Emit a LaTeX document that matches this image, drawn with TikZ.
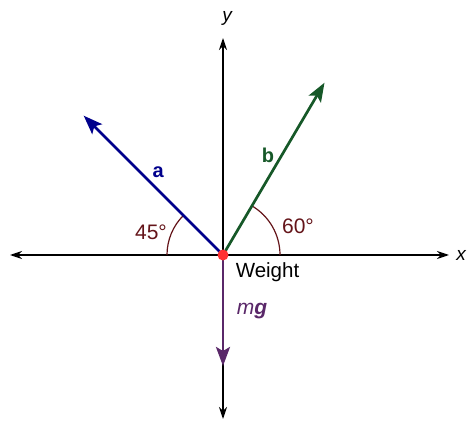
\documentclass[tikz,border=0pt]{standalone}
\usepackage{fontspec}
\setmainfont{Liberation Sans}
\usetikzlibrary{arrows.meta,calc}
\definecolor{avec}{RGB}{0,0,140}
\definecolor{bvec}{RGB}{22,88,40}
\definecolor{mgvec}{RGB}{90,40,105}
\definecolor{arccol}{RGB}{100,20,25}
\definecolor{dotcol}{RGB}{255,50,50}
\tikzset{
  axis/.style={line width=1.2pt,-{Stealth[length=12pt,width=8pt]}},
  vec/.style={line width=2.7pt,-{Stealth[length=19pt,width=14pt,inset=4pt]}},
  anglearc/.style={arccol,line width=1.2pt},
  lbl/.style={inner sep=0pt,font=\fontsize{19}{22}\selectfont},
}
\begin{document}
\begin{tikzpicture}[x=1pt,y=-1pt]
\useasboundingbox (0,0) rectangle (467,428);
\coordinate (O) at (223,255);
\coordinate (xl) at (10,255);
\coordinate (xr) at (449,255);
\coordinate (yt) at (223,38);
\coordinate (yb) at (223,419);
\coordinate (atip) at ($(O)+(-135:197)$);
\coordinate (btip) at ($(O)+(-59.5:200)$);
\coordinate (mgtip) at (223,366);
% axes
\draw[axis] (O) -- (xl);
\draw[axis] (O) -- (xr);
\draw[axis] (O) -- (yt);
\draw[axis] (O) -- (yb);
% angle arcs
\draw[anglearc] ($(O)+(180:56)$) arc[start angle=180,end angle=225,radius=56];
\draw[anglearc] ($(O)+(0:57)$) arc[start angle=0,end angle=-60,radius=57];
% vectors
\draw[vec,avec] (O) -- (atip);
\draw[vec,bvec] (O) -- (btip);
\draw[vec,mgvec] (O) -- (mgtip);
% origin dot
\fill[dotcol] (O) circle[radius=5.5];
% labels
\node[lbl,text=avec,font=\fontsize{20}{22}\selectfont\bfseries] (la) at (158.3,172.5) {a};
\node[lbl,text=bvec,font=\fontsize{20}{22}\selectfont\bfseries] (lb) at (268,155.5) {b};
\node[lbl,text=mgvec,font=\fontsize{21}{24}\selectfont] (lmg) at (252,311) {\itshape m\bfseries g};
\node[lbl,text=arccol,font=\fontsize{21}{24}\selectfont] (l45) at (151,232) {45°};
\node[lbl,text=arccol,font=\fontsize{21}{24}\selectfont] (l60) at (298,226) {60°};
\node[lbl,anchor=base,font=\fontsize{20.5}{24}\selectfont] (lw) at (267.5,277) {Weight};
\node[lbl,font=\fontsize{19}{22}\selectfont\itshape] (ly) at (227,18) {y};
\node[lbl,font=\fontsize{19}{22}\selectfont\itshape] (lx) at (461,255) {x};
\end{tikzpicture}
\end{document}
